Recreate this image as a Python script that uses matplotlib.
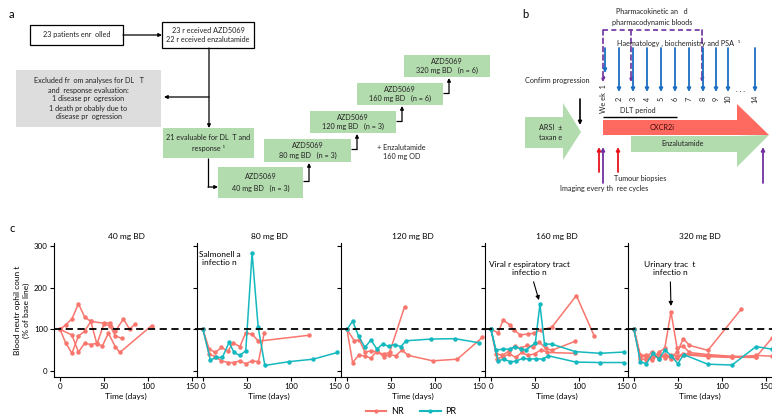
import matplotlib.pyplot as plt
from matplotlib.lines import Line2D
from matplotlib.patches import Rectangle, Polygon

plt.rcParams['font.family'] = ['Lato', 'DejaVu Sans']

NR_COLOR = '#f8766d'
PR_COLOR = '#14b8bf'
GREEN = '#b3dcae'
GREY = '#dddddd'
PURPLE = '#7030a0'
BLUE = '#1b6ec2'

# ---- panel c data: neutrophil count (% of baseline) per patient ----
doses = ['40 mg BD', '80 mg BD', '120 mg BD', '160 mg BD', '320 mg BD']

days_40 = [
    [0, 6.5, 13.5, 21, 28, 35, 50, 57, 63, 72, 79, 85],
    [0, 13.5, 21, 28, 35, 42, 48, 55, 63, 68, 104],
    [0, 6.5, 13.5, 21, 28, 35, 42, 50, 57, 63, 70],
]
vals_40 = [
    [100, 111, 125, 161, 130, 119, 115, 116, 96, 125, 101, 112],
    [100, 87, 46, 67, 64, 67, 60, 91, 58, 45, 109],
    [100, 68, 43, 84, 96, 119, 65, 114, 108, 84, 79],
]
resp_40 = ['NR', 'NR', 'NR']

days_80 = [
    [0, 7, 14, 21, 28.5, 34, 42, 48.5, 56, 63, 120],
    [0, 7, 14, 21, 28.5, 35, 42, 48.5, 56, 63, 69.5],
    [0, 8.4, 15, 22, 29.6, 35.3, 41.8, 48.6, 55.8, 62.7, 70.3, 97.6, 125.3, 152.7],
]
vals_80 = [
    [100, 53, 45, 57, 48, 68, 59, 92, 88, 72, 86],
    [100, 41, 35, 25, 21, 21, 25, 18, 25, 23, 91],
    [100, 27, 33, 33, 69, 45, 38, 49, 283, 105, 14, 23, 29, 45],
]
resp_80 = ['NR', 'NR', 'PR']

days_120 = [
    [0, 8.3, 14, 20.4, 27.2, 34, 41.6, 48.4, 65.4],
    [0, 6.4, 13.2, 20.4, 27.2, 34, 41.6, 48, 55.5, 62.4, 69.5, 97.5, 125.4, 153.8],
    [0, 6.4, 13.2, 20.4, 27.2, 34, 40.4, 47.2, 54, 61.2, 67.2, 95.2, 122.8, 150.4],
]
vals_120 = [
    [100, 73, 75, 46, 49, 46, 41, 45, 154],
    [100, 21, 38, 37, 31, 49, 35, 40, 37, 51, 38, 25, 29, 81],
    [100, 120, 84, 57, 75, 53, 65, 60, 64, 59, 73, 77, 78, 68],
]
resp_120 = ['NR', 'NR', 'PR']

days_160 = [
    [0, 8.2, 13.8, 21.3, 26.1, 33.2, 41.8, 48.5, 56.7, 69, 97, 117.2],
    [0, 6, 13, 20, 27, 34, 41, 48, 55, 62, 69, 96],
    [0, 7, 14, 21, 28, 35, 42, 50, 57, 64, 96],
    [0, 5.6, 13.8, 21.3, 26.9, 34.3, 39.9, 50.4, 55.6, 60.8, 69, 95.9, 123.9, 150.7],
    [0, 8.2, 14.6, 22, 28, 36.2, 43.7, 51.1, 58.6, 65.3, 96.6, 123.9, 150.7],
]
vals_160 = [
    [100, 92, 123, 111, 99, 87, 89, 91, 99, 105, 181, 85],
    [100, 42, 38, 48, 60, 55, 62, 58, 70, 55, 50, 72],
    [100, 30, 35, 42, 33, 45, 38, 42, 52, 45, 43],
    [100, 51, 53, 53, 59, 53, 51, 68, 160, 65, 65, 47, 43, 46],
    [100, 25, 29, 23, 24, 31, 29, 30, 29, 37, 22, 21, 21],
]
resp_160 = ['NR', 'NR', 'NR', 'PR', 'PR']

days_320 = [
    [0, 7, 14, 21, 28, 35, 42, 49, 56, 63, 84, 111, 139, 157],
    [0, 7, 14, 21, 28, 35, 42, 49, 56, 63, 84, 122],
    [0, 7, 14, 21, 28, 35, 42, 49, 56, 84, 111, 139, 157],
    [0, 7, 14, 21, 28, 35, 42, 49, 56, 84, 111, 139],
    [0, 7.2, 14, 21.5, 28.3, 35.1, 42.3, 49.9, 56.3, 83.9, 111.4, 138.6, 156.8],
]
vals_320 = [
    [100, 35, 40, 32, 45, 55, 142, 55, 60, 45, 40, 36, 35, 80],
    [100, 40, 36, 45, 30, 40, 35, 45, 78, 62, 50, 149],
    [100, 30, 28, 35, 35, 38, 30, 32, 40, 35, 33, 38, 36],
    [100, 38, 33, 27, 40, 32, 38, 36, 42, 38, 34, 33],
    [100, 23, 18, 43, 29, 51, 37, 18, 40, 17, 15, 59, 53],
]
resp_320 = ['NR', 'NR', 'NR', 'NR', 'PR']

panel_days = [days_40, days_80, days_120, days_160, days_320]
panel_vals = [vals_40, vals_80, vals_120, vals_160, vals_320]
panel_resp = [resp_40, resp_80, resp_120, resp_160, resp_320]

# ---- panel b: week labels ----
week_labels = ['We ek  1', '2', '3', '4', '5', '6', '7', '8', '9', '10', '14']

fig = plt.figure(figsize=(7.72, 4.2), dpi=100)

# overlay in pixel coordinates for the diagrams (a, b)
ov = fig.add_axes([0, 0, 1, 1])
ov.set_xlim(0, 772)
ov.set_ylim(420, 0)
ov.axis('off')

FS = 5.2


def box(x0, y0, x1, y1, fc, ec=None, lines=(), ys=()):
    ov.add_patch(Rectangle((x0, y0), x1 - x0, y1 - y0, facecolor=fc,
                           edgecolor=ec if ec else 'none', lw=0.9))
    for t, y in zip(lines, ys):
        ov.text((x0 + x1) / 2, y, t, ha='center', va='center', fontsize=FS, color='#222222')


def arrow(x0, y0, x1, y1, color='black', lw=0.9, ls='-', ms=5):
    ov.annotate('', xy=(x1, y1), xytext=(x0, y0),
                arrowprops=dict(arrowstyle='-|>', color=color, lw=lw, linestyle=ls,
                                mutation_scale=ms, shrinkA=0, shrinkB=0))


def line(xs, ys, color='black', lw=0.9, ls='-'):
    ov.plot(xs, ys, color=color, lw=lw, ls=ls, solid_capstyle='butt')


# ---------------- panel a ----------------
ov.text(9, 14, 'a', fontsize=8, va='center')
box(30, 25, 123, 45, 'white', 'black', ['23 patients enr  olled'], [35])
arrow(123, 35, 162, 35)
box(162, 22, 254, 48, 'white', 'black',
    ['23 r eceived AZD5069', '22 r eceived enzalutamide'], [30.5, 40])
arrow(209, 48, 209, 128)
arrow(209, 97, 164, 97)
box(16, 70, 161, 127, GREY, None,
    ['Excluded fr  om analyses for DL   T', 'and  response evaluation:',
     '1 disease pr  ogression', '1 death pr obably due to', 'disease pr  ogression'],
    [80, 90, 99, 108, 117])
box(163, 128, 254, 158, GREEN, None, ['21 evaluable for DL  T and', 'response ¹'], [138, 148])
line([208, 208], [158, 187])
arrow(208, 187, 218, 187)

dose_boxes = [
    (218, 167, 303, 198, '40 mg BD   (n = 3)'),
    (264, 139, 351, 162, '80 mg BD   (n = 3)'),
    (310, 111, 396, 133, '120 mg BD   (n = 3)'),
    (357, 83, 443, 105, '160 mg BD   (n = 6)'),
    (404, 55, 490, 77, '320 mg BD   (n = 6)'),
]
for i, (x0, y0, x1, y1, lab) in enumerate(dose_boxes):
    h = y1 - y0
    box(x0, y0, x1, y1, GREEN, None, ['AZD5069', lab], [y0 + h * 0.3, y0 + h * 0.7])
    if i < len(dose_boxes) - 1:
        nxt = dose_boxes[i + 1]
        ym = y0 + h * 0.45
        xe = x1 + 6
        line([x1, xe], [ym, ym])
        arrow(xe, ym, xe, nxt[3] + 1)

ov.text(401, 148, '+ Enzalutamide', fontsize=FS, ha='center', va='center', color='#222222')
ov.text(402, 157, '160 mg OD', fontsize=FS, ha='center', va='center', color='#222222')

# ---------------- panel b ----------------
ov.text(522, 14, 'b', fontsize=8, va='center')
ov.text(652, 12, 'Pharmacokinetic an   d', fontsize=FS, ha='center', va='center', color='#222222')
ov.text(652, 22, 'pharmacodynamic bloods', fontsize=FS, ha='center', va='center', color='#222222')

line([603, 702], [30, 30], color=PURPLE, lw=1.2, ls=(0, (3, 2)))
for px in [603, 631, 702]:
    arrow(px, 30, px, 82, color=PURPLE, lw=1.2, ls=(0, (3, 2)), ms=5)

ov.text(679, 43, 'Haematology , biochemistry and PSA  ¹', fontsize=FS, ha='center', va='center',
        color='#222222')
week_x = [605, 619, 633, 647, 661, 675, 689, 703, 716, 728, 755]
for i, (wx, wl) in enumerate(zip(week_x, week_labels)):
    arrow(wx, 48, wx, 73 if i == 0 else 92, color=BLUE, lw=1.3, ms=5)
    ov.text(wx - 2 if i == 0 else wx, 99, wl, rotation=90, fontsize=FS, ha='center',
            va='center', color='#222222')
ov.text(741, 90, '. . .', fontsize=FS, ha='center', va='center', color='#222222')

ov.text(557, 80, 'Confirm progression', fontsize=FS, ha='center', va='center', color='#222222')
arrow(580, 99, 580, 125, lw=1.2)

ov.text(638, 110, 'DLT period', fontsize=FS, ha='center', va='center', color='#222222')
line([603, 677], [117, 117], lw=1.0)

ov.add_patch(Polygon([(525, 117), (563, 117), (563, 103), (581, 132), (563, 160),
                      (563, 148), (525, 148)], closed=True, facecolor=GREEN, edgecolor='none'))
ov.text(551, 128, 'ARSI  ±', fontsize=FS, ha='center', va='center', color='#222222')
ov.text(551, 138, 'taxan e', fontsize=FS, ha='center', va='center', color='#222222')

ov.add_patch(Polygon([(603, 120), (737, 120), (737, 104), (769, 135), (603, 135)],
                     closed=True, facecolor='#ff6a60', edgecolor='none'))
ov.add_patch(Polygon([(631, 136), (737, 136), (769, 135), (737, 167), (737, 152), (631, 152)],
                     closed=True, facecolor=GREEN, edgecolor='none'))
ov.text(662, 128, 'CXCR2i', fontsize=FS, ha='center', va='center', color='#3a0a0a')
ov.text(683, 144, 'Enzalutamide', fontsize=FS, ha='center', va='center', color='#222222')

for rx in [599, 618]:
    arrow(rx, 172, rx, 147, color='#e8141c', lw=1.3, ms=5)
for px in [603, 763]:
    arrow(px, 183, px, 147, color=PURPLE, lw=1.3, ms=5)
ov.text(640, 178, 'Tumour biopsies', fontsize=FS, ha='center', va='center', color='#222222')
ov.text(604, 189, 'Imaging every th  ree cycles', fontsize=FS, ha='center', va='center',
        color='#222222')

# ---------------- panel c ----------------
ov.text(9, 229, 'c', fontsize=8, va='center')
colors = {'NR': NR_COLOR, 'PR': PR_COLOR}
spine_x = [54, 197, 341, 485, 628]
axes = []
for i, dose in enumerate(doses):
    ax = fig.add_axes([spine_x[i] / 772, 43 / 420, 144 / 772, 134 / 420])
    ax.patch.set_alpha(0)
    ax.set_xlim(-6.8, 156.8)
    ax.set_ylim(-13.6, 306.5)
    ax.axhline(100, color='black', lw=1.3, ls=(0, (4, 2.5)), zorder=3)
    for d, v, r in zip(panel_days[i], panel_vals[i], panel_resp[i]):
        ax.plot(d, v, color=colors[r], lw=1.1, marker='o', ms=2.2, clip_on=False, zorder=2)
    for s in ['top', 'right']:
        ax.spines[s].set_visible(False)
    ax.set_xticks([0, 50, 100, 150])
    ax.set_yticks([0, 100, 200, 300])
    ax.tick_params(labelsize=5.7, length=3, width=0.8, pad=1.5)
    if i > 0:
        ax.tick_params(labelleft=False)
    ax.set_title(dose, fontsize=6, pad=3)
    ax.set_xlabel('Time (days)', fontsize=6, labelpad=2)
    axes.append(ax)

axes[0].set_ylabel('Blood neutr ophil coun t\n(% of base line)', fontsize=6, labelpad=3)

axes[1].text(19, 269, 'Salmonell a\ninfectio n', fontsize=6, ha='center', va='center',
             linespacing=1.2)
axes[3].annotate('Viral r espiratory tract\ninfectio n', xy=(54.5, 170), xytext=(44, 245),
                 fontsize=6, ha='center', va='center', linespacing=1.2,
                 arrowprops=dict(arrowstyle='-|>', color='black', lw=0.8, mutation_scale=6,
                                 shrinkA=2, shrinkB=0))
axes[4].annotate('Urinary trac  t\ninfectio n', xy=(42, 156), xytext=(41, 245),
                 fontsize=6, ha='center', va='center', linespacing=1.2,
                 arrowprops=dict(arrowstyle='-|>', color='black', lw=0.8, mutation_scale=6,
                                 shrinkA=2, shrinkB=0))

handles = [Line2D([], [], color=NR_COLOR, lw=1.5, marker='o', ms=2),
           Line2D([], [], color=PR_COLOR, lw=1.5, marker='o', ms=2)]
fig.legend(handles, ['NR', 'PR'], loc='center', bbox_to_anchor=(411 / 772, 8 / 420), ncol=2,
           frameon=False, fontsize=6.5, handlelength=2.3, columnspacing=1.8, handletextpad=0.5)

fig.savefig('out.png', dpi=100)
